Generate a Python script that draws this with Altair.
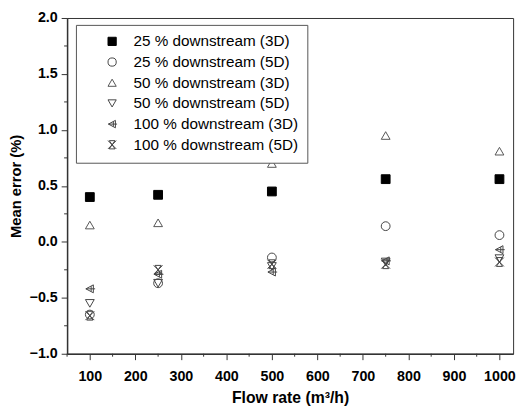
import altair as alt
import pandas as pd

flow = [100, 250, 500, 750, 1000]
series_names = [
    "25 % downstream (3D)",
    "25 % downstream (5D)",
    "50 % downstream (3D)",
    "50 % downstream (5D)",
    "100 % downstream (3D)",
    "100 % downstream (5D)",
]
s25_3d = [0.40, 0.42, 0.45, 0.56, 0.56]
s25_5d = [-0.65, -0.37, -0.14, 0.14, 0.06]
s50_3d = [0.15, 0.17, 0.70, 0.95, 0.81]
s50_5d = [-0.55, -0.37, -0.22, -0.18, -0.15]
s100_3d = [-0.42, -0.29, -0.27, -0.17, -0.07]
s100_5d = [-0.66, -0.25, -0.20, -0.20, -0.18]

x_ticks = [100, 200, 300, 400, 500, 600, 700, 800, 900, 1000]
x_minor = [50, 150, 250, 350, 450, 550, 650, 750, 850, 950]
y_ticks = [-1.0, -0.5, 0.0, 0.5, 1.0, 1.5, 2.0]
y_minor = [-0.75, -0.25, 0.25, 0.75, 1.25, 1.75]

all_series = [s25_3d, s25_5d, s50_3d, s50_5d, s100_3d, s100_5d]
rows = []
for name, vals in zip(series_names, all_series):
    for f, v in zip(flow, vals):
        rows.append({"flow": f, "err": v, "series": name})
df = pd.DataFrame(rows)

shapes = [
    "square",
    "circle",
    "triangle-up",
    "triangle-down",
    "M0.8,-0.9L-0.9,0L0.8,0.9Z M-0.9,0L1.2,0 M0.3,-0.6L0.3,0.6",
    "M-1,-1L1,1 M1,-1L-1,1 M-0.7,-1L0.7,-1L-0.7,1L0.7,1Z",
]
strokes = ["#000000", "#444444", "#555555", "#444444", "#444444", "#444444"]
fills = ["#000000", "transparent", "transparent", "transparent", "transparent", "transparent"]

x_scale = alt.Scale(domain=[50, 1030], nice=False, zero=False)
y_scale = alt.Scale(domain=[-1.0, 2.0], nice=False, zero=False)
x_axis = alt.Axis(values=x_ticks, title="Flow rate (m³/h)", format="d",
                  labelPadding=10, titlePadding=7, titleFontSize=16)
y_axis = alt.Axis(values=y_ticks, title="Mean error (%)", format=".1f",
                  labelPadding=4, titlePadding=6)

legend = alt.Legend(
    title=None,
    orient="none",
    legendX=9,
    legendY=7,
    labelFontSize=15.5,
    labelFont="Liberation Sans",
    labelColor="#000000",
    symbolSize=70,
    symbolStrokeWidth=1,
    rowPadding=4,
    padding=9,
    symbolOffset=20,
    labelOffset=14,
    strokeColor="#555555",
    fillColor="white",
    labelLimit=400,
)

points = alt.Chart(df).mark_point(filled=False, size=80, strokeWidth=1, opacity=1).encode(
    x=alt.X("flow:Q", scale=x_scale, axis=x_axis),
    y=alt.Y("err:Q", scale=y_scale, axis=y_axis),
    shape=alt.Shape("series:N", sort=series_names,
                    scale=alt.Scale(domain=series_names, range=shapes), legend=legend),
    color=alt.Color("series:N", sort=series_names,
                    scale=alt.Scale(domain=series_names, range=strokes), legend=legend),
    fill=alt.Fill("series:N", sort=series_names,
                  scale=alt.Scale(domain=series_names, range=fills), legend=legend),
)

xminor_df = pd.DataFrame({"flow": x_minor})
yminor_df = pd.DataFrame({"err": y_minor})

xminor = alt.Chart(xminor_df).mark_rule(color="#333333", strokeWidth=1).encode(
    x=alt.X("flow:Q", scale=x_scale, axis=x_axis),
    y=alt.value(341),
    y2=alt.value(344),
)
yminor = alt.Chart(yminor_df).mark_rule(color="#333333", strokeWidth=1).encode(
    y=alt.Y("err:Q", scale=y_scale, axis=y_axis),
    x=alt.value(0),
    x2=alt.value(-3),
)

chart = alt.layer(points, xminor, yminor).properties(
    width=453,
    height=341,
    autosize=alt.AutoSizeParams(type="none"),
    padding={"left": 60, "top": 7, "right": 7, "bottom": 55},
).configure_view(
    stroke="#333333", strokeWidth=1
).configure_axis(
    grid=False,
    domainColor="#333333",
    domainWidth=1.5,
    tickColor="#333333",
    tickSize=6,
    tickWidth=1,
    labelFont="Liberation Sans",
    labelFontSize=14.5,
    labelFontWeight="bold",
    labelColor="#000000",
    titleFont="Liberation Sans",
    titleFontSize=15,
    titleFontWeight="bold",
    titleColor="#000000",
)

chart.save("out.html", embed_options={"renderer": "svg", "actions": False})
